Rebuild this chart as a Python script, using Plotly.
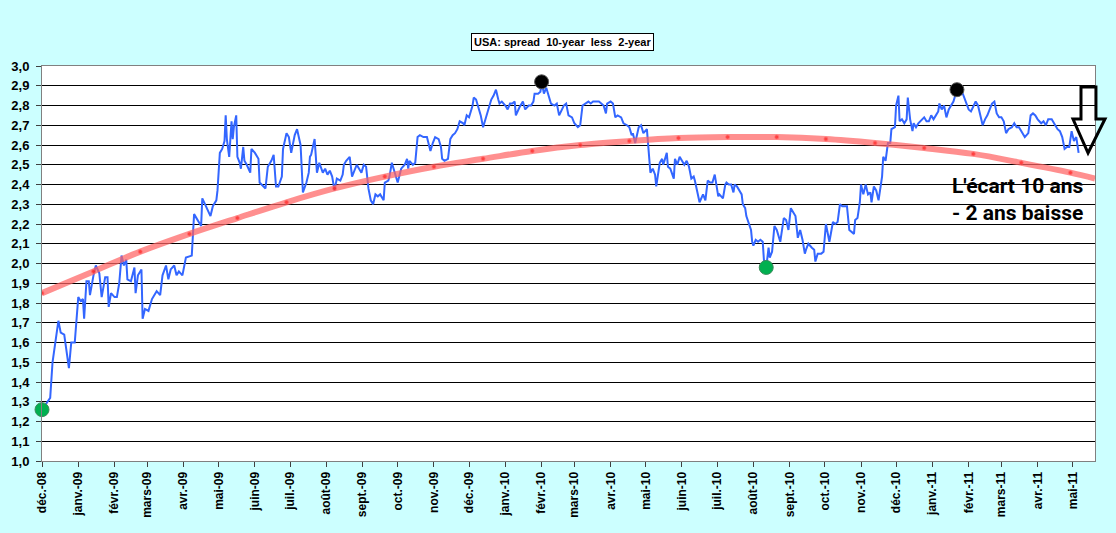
import pandas as pd
import plotly.graph_objects as go

## spread 10y - 2y (days counted from 1 Dec 2008)
day_offsets = [
    0, 7, 9, 14, 16, 19, 23, 25, 28, 31, 33, 35, 36, 38, 40, 41, 44, 46, 49, 51,
    54, 56, 57, 59, 62, 64, 66, 68, 70, 72, 73, 76, 79, 80, 82, 85, 86, 88, 91, 94,
    98, 101, 103, 106, 108, 110, 113, 115, 117, 120, 123, 128, 130, 133, 136, 137, 140, 142, 144, 146,
    149, 150, 152, 154, 156, 157, 158, 160, 162, 163, 164, 166, 167, 169, 170, 172, 173, 175, 178, 179,
    182, 185, 186, 191, 193, 196, 198, 200, 202, 205, 206, 209, 211, 213, 215, 216, 218, 221, 223, 226,
    228, 229, 230, 233, 235, 237, 240, 242, 244, 246, 248, 250, 252, 255, 257, 258, 260, 263, 265, 267,
    269, 271, 273, 275, 277, 279, 281, 283, 285, 287, 289, 292, 293, 296, 297, 299, 302, 304, 307, 310,
    312, 313, 314, 317, 319, 321, 323, 326, 329, 331, 332, 334, 336, 339, 341, 342, 344, 347, 349, 351,
    353, 355, 357, 360, 361, 363, 365, 367, 368, 369, 371, 373, 375, 377, 379, 381, 384, 386, 388, 390,
    391, 393, 396, 398, 400, 402, 404, 405, 407, 408, 411, 413, 416, 418, 420, 421, 424, 426, 427, 429,
    431, 433, 435, 438, 440, 442, 444, 446, 448, 450, 453, 455, 458, 460, 462, 467, 469, 471, 474, 476,
    478, 480, 482, 483, 486, 488, 490, 492, 495, 497, 500, 502, 504, 505, 507, 509, 510, 512, 514, 517,
    518, 520, 522, 524, 525, 528, 530, 531, 534, 535, 537, 540, 541, 543, 545, 547, 549, 551, 553, 555,
    557, 558, 560, 562, 565, 567, 568, 569, 571, 573, 575, 577, 578, 579, 582, 584, 585, 587, 589, 591,
    592, 594, 596, 598, 599, 601, 602, 604, 606, 607, 608, 610, 612, 614, 616, 617, 619, 621, 622, 624,
    626, 628, 631, 632, 634, 636, 638, 640, 642, 644, 646, 648, 650, 652, 653, 655, 658, 660, 661, 663,
    666, 668, 670, 672, 673, 676, 678, 680, 682, 684, 686, 688, 690, 692, 694, 695, 697, 699, 700, 702,
    704, 706, 708, 709, 711, 713, 715, 718, 719, 721, 723, 725, 726, 729, 730, 732, 733, 735, 737, 739,
    740, 742, 744, 745, 747, 749, 752, 754, 756, 758, 760, 762, 764, 766, 767, 769, 771, 773, 775, 777,
    779, 782, 785, 787, 790, 792, 794, 796, 798, 800, 802, 804, 806, 808, 810, 812, 814, 816, 818, 820,
    822, 824, 826, 829, 831, 833, 835, 837, 840, 843, 845, 847, 849, 851, 854, 856, 858, 860, 863, 866,
    868, 870, 872, 874, 876, 878, 880, 882, 884, 886,
]
spread = [
    1.26, 1.32, 1.50, 1.71, 1.65, 1.64, 1.47, 1.60, 1.60, 1.83, 1.81, 1.82, 1.72, 1.91, 1.91, 1.84, 1.94, 1.99, 1.95, 1.83,
    1.93, 1.93, 1.78, 1.85, 1.83, 1.83, 1.90, 2.04, 1.99, 2.02, 1.92, 1.91, 1.98, 1.85, 1.94, 1.97, 1.72, 1.77, 1.76, 1.82,
    1.86, 1.84, 1.94, 1.99, 1.92, 1.97, 1.99, 1.94, 1.96, 1.94, 2.03, 2.04, 2.25, 2.22, 2.19, 2.33, 2.29, 2.26, 2.24, 2.29,
    2.32, 2.37, 2.56, 2.58, 2.62, 2.75, 2.63, 2.54, 2.72, 2.63, 2.69, 2.75, 2.54, 2.51, 2.48, 2.59, 2.52, 2.50, 2.46, 2.58,
    2.56, 2.53, 2.41, 2.38, 2.49, 2.52, 2.55, 2.39, 2.39, 2.44, 2.58, 2.66, 2.64, 2.56, 2.62, 2.65, 2.68, 2.60, 2.36, 2.41,
    2.46, 2.54, 2.55, 2.63, 2.46, 2.51, 2.46, 2.48, 2.45, 2.47, 2.44, 2.37, 2.43, 2.42, 2.45, 2.50, 2.52, 2.54, 2.44, 2.47,
    2.50, 2.48, 2.46, 2.50, 2.49, 2.38, 2.32, 2.30, 2.35, 2.34, 2.35, 2.32, 2.41, 2.42, 2.44, 2.51, 2.45, 2.41, 2.48, 2.50,
    2.53, 2.48, 2.52, 2.50, 2.51, 2.64, 2.65, 2.64, 2.64, 2.60, 2.57, 2.61, 2.64, 2.63, 2.59, 2.53, 2.52, 2.53, 2.63, 2.65,
    2.66, 2.68, 2.72, 2.71, 2.70, 2.75, 2.74, 2.78, 2.80, 2.84, 2.83, 2.79, 2.75, 2.69, 2.73, 2.78, 2.83, 2.85, 2.88, 2.83,
    2.81, 2.82, 2.80, 2.78, 2.81, 2.81, 2.82, 2.75, 2.78, 2.79, 2.82, 2.78, 2.80, 2.80, 2.82, 2.86, 2.86, 2.87, 2.92, 2.86,
    2.89, 2.85, 2.81, 2.80, 2.81, 2.75, 2.78, 2.80, 2.81, 2.75, 2.74, 2.71, 2.69, 2.70, 2.80, 2.82, 2.81, 2.82, 2.82, 2.82,
    2.81, 2.80, 2.76, 2.81, 2.82, 2.81, 2.74, 2.75, 2.74, 2.71, 2.70, 2.69, 2.65, 2.66, 2.61, 2.67, 2.69, 2.70, 2.66, 2.68,
    2.61, 2.46, 2.48, 2.45, 2.39, 2.51, 2.53, 2.50, 2.56, 2.49, 2.48, 2.43, 2.53, 2.50, 2.54, 2.52, 2.50, 2.52, 2.49, 2.43,
    2.44, 2.42, 2.37, 2.31, 2.35, 2.32, 2.37, 2.42, 2.41, 2.41, 2.45, 2.36, 2.34, 2.35, 2.33, 2.40, 2.41, 2.40, 2.40, 2.36,
    2.40, 2.39, 2.37, 2.35, 2.30, 2.28, 2.24, 2.20, 2.17, 2.11, 2.09, 2.12, 2.11, 2.12, 2.11, 2.02, 1.98, 2.08, 2.03, 2.06,
    2.19, 2.17, 2.11, 2.15, 2.23, 2.22, 2.17, 2.28, 2.26, 2.24, 2.13, 2.17, 2.12, 2.05, 2.07, 2.10, 2.08, 2.07, 2.01, 2.05,
    2.05, 2.06, 2.20, 2.15, 2.11, 2.21, 2.20, 2.21, 2.30, 2.29, 2.29, 2.29, 2.17, 2.16, 2.15, 2.22, 2.23, 2.31, 2.40, 2.35,
    2.40, 2.35, 2.36, 2.31, 2.39, 2.37, 2.32, 2.44, 2.54, 2.52, 2.61, 2.61, 2.68, 2.69, 2.80, 2.85, 2.72, 2.73, 2.71, 2.73,
    2.84, 2.73, 2.67, 2.71, 2.69, 2.71, 2.73, 2.74, 2.72, 2.72, 2.75, 2.73, 2.75, 2.77, 2.81, 2.78, 2.80, 2.74, 2.78, 2.80,
    2.82, 2.88, 2.86, 2.86, 2.81, 2.78, 2.77, 2.80, 2.82, 2.80, 2.75, 2.70, 2.73, 2.75, 2.78, 2.81, 2.82, 2.76, 2.74, 2.74,
    2.72, 2.66, 2.68, 2.69, 2.71, 2.69, 2.69, 2.67, 2.64, 2.66, 2.75, 2.76, 2.75, 2.73, 2.71, 2.72, 2.70, 2.73, 2.73, 2.70,
    2.68, 2.67, 2.64, 2.58, 2.59, 2.59, 2.67, 2.62, 2.64, 2.56,
]

## polynomial trend (red), read at its dots
trend_days = [0, 44, 84, 126, 167, 209, 250, 293, 335, 377, 419, 460, 502, 544, 586, 628, 670, 712, 754, 796, 837, 879, 900]
trend_vals = [1.85, 1.96, 2.06, 2.15, 2.23, 2.31, 2.38, 2.44, 2.49, 2.53, 2.57, 2.60, 2.62, 2.635, 2.64, 2.64, 2.63, 2.61, 2.585, 2.555, 2.51, 2.46, 2.43]

## highlighted lows / highs
low_days = [0, 619]
low_vals = [1.26, 1.98]
high_days = [427, 782]
high_vals = [2.92, 2.88]

tick_dates = pd.date_range("2008-12-01", "2011-05-01", freq="MS")
tick_labels = ["déc.-08", "janv.-09", "févr.-09", "mars-09", "avr.-09", "mai-09", "juin-09", "juil.-09",
               "août-09", "sept.-09", "oct.-09", "nov.-09", "déc.-09", "janv.-10", "févr.-10", "mars-10",
               "avr.-10", "mai-10", "juin-10", "juil.-10", "août-10", "sept.-10", "oct.-10", "nov.-10",
               "déc.-10", "janv.-11", "févr.-11", "mars-11", "avr.-11", "mai-11"]

start = pd.Timestamp("2008-12-01")


def to_dates(days):
    return start + pd.to_timedelta(days, unit="D")


fig = go.Figure()
fig.add_trace(go.Scatter(x=to_dates(day_offsets), y=spread, mode="lines",
                         line=dict(color="#3366FF", width=2), showlegend=False))
fig.add_trace(go.Scatter(x=to_dates(trend_days), y=trend_vals, mode="lines+markers",
                         line=dict(color="rgba(255,100,100,0.72)", width=6, shape="spline"),
                         marker=dict(color="#FF2020", size=[4] * (len(trend_days) - 1) + [0]),
                         showlegend=False))
fig.add_trace(go.Scatter(x=to_dates(low_days), y=low_vals, mode="markers", cliponaxis=False,
                         marker=dict(color="#00B050", size=14, line=dict(color="#3A8A5A", width=1)),
                         showlegend=False))
fig.add_trace(go.Scatter(x=to_dates(high_days), y=high_vals, mode="markers", cliponaxis=False,
                         marker=dict(color="black", size=14, line=dict(color="#555555", width=1)),
                         showlegend=False))

## plot area in pixels: x 42..1095, y 66..461
L, R, T, B = 42, 1095, 66, 461


def px(x):
    return (x - L) / (R - L)


def py(y):
    return (B - y) / (B - T)


arrow = [(1081, 87), (1096, 87), (1096, 119), (1105, 119), (1088, 153), (1073, 119), (1081, 119)]
path = "M " + " L ".join(f"{px(a):.4f},{py(b):.4f}" for a, b in arrow) + " Z"

fig.update_layout(
    width=1116, height=533,
    margin=dict(l=L, r=1116 - R, t=T, b=533 - B),
    paper_bgcolor="#CCFFFF", plot_bgcolor="white",
    separators=", ",
    font=dict(family="Liberation Sans, Arial", color="black"),
    shapes=[dict(type="path", path=path, xref="paper", yref="paper",
                 line=dict(color="black", width=3))],
    annotations=[
        dict(text="USA: spread\u00a0 10-year\u00a0 less\u00a0 2-year", xref="paper", yref="paper",
             x=px(562), y=py(42), xanchor="center", yanchor="middle", showarrow=False,
             bgcolor="white", bordercolor="black", borderwidth=1, borderpad=2,
             font=dict(size=11, weight="bold")),
        dict(text="L'écart 10 ans<br>- 2 ans baisse", xref="paper", yref="paper",
             x=px(1018), y=py(199), xanchor="center", yanchor="middle", showarrow=False,
             font=dict(family="Roboto", size=21, weight="bold", color="black")),
    ],
)
fig.update_xaxes(range=[start, pd.Timestamp("2011-05-20")], tickvals=tick_dates, ticktext=tick_labels,
                 tickangle=-90, ticks="outside", ticklen=5, tickcolor="#404040",
                 tickfont=dict(size=12, weight="bold"), showgrid=False,
                 showline=True, linecolor="#808080", linewidth=1, mirror=True)
fig.update_yaxes(range=[1, 3], dtick=0.1, tickformat=".1f", ticks="outside", ticklen=5,
                 tickcolor="#404040", tickfont=dict(size=13, weight="bold"), ticklabelstandoff=4,
                 showgrid=True, gridcolor="black", gridwidth=1, zeroline=False,
                 showline=True, linecolor="#808080", linewidth=1, mirror=True)

## the page's default body margin would shift the chart by 8px
fig.write_html("out.html", config={"displayModeBar": False},
               post_script="document.body.style.margin='0';")
